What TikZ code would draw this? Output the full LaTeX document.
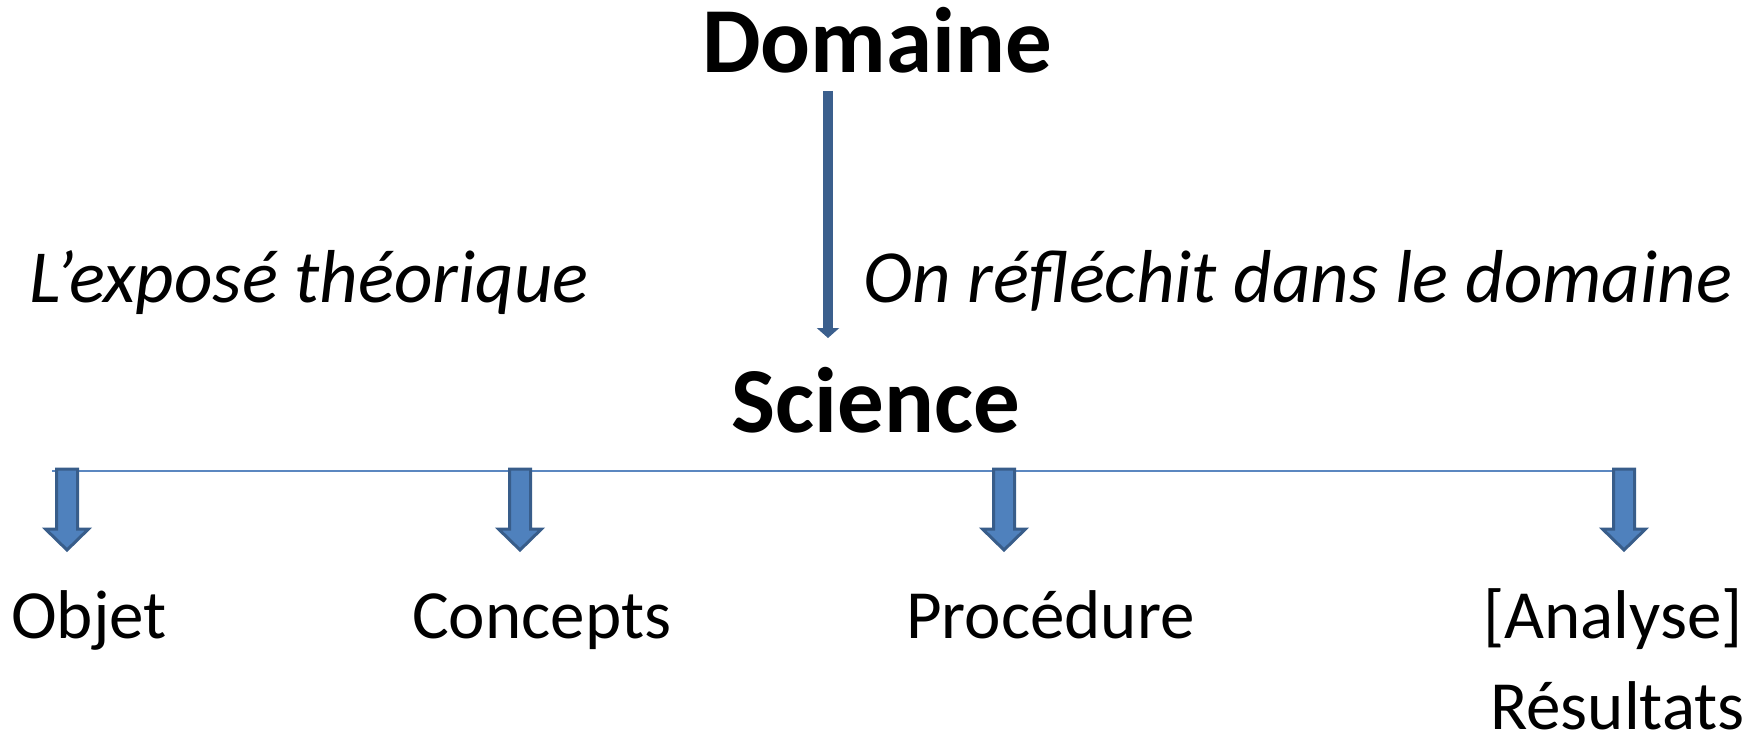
\documentclass[tikz,border=0pt]{standalone}
\usepackage{fontspec}
\setmainfont{Carlito}
\usetikzlibrary{arrows.meta}
\definecolor{arrowline}{HTML}{385D8A}
\definecolor{arrowfill}{HTML}{4F81BD}
\definecolor{mainarrow}{HTML}{3B5F8D}
\definecolor{hline}{HTML}{5B87C0}
\tikzset{
  title/.style={inner sep=0pt, anchor=base, font=\fontsize{93}{112}\selectfont\bfseries},
  note/.style={inner sep=0pt, anchor=base west, font=\fontsize{75}{90}\selectfont\itshape},
  item/.style={inner sep=0pt, anchor=base west, font=\fontsize{69}{83}\selectfont},
  blockarrow/.pic={
    \filldraw[draw=arrowline, fill=arrowfill, line width=3pt, line join=miter]
      (-10.5,0) -- (10.5,0) -- (10.5,60) -- (21.5,60) -- (0,81) -- (-21.5,60) -- (-10.5,60) -- cycle;
  }
}
\begin{document}
\begin{tikzpicture}[x=1pt,y=-1pt]
\useasboundingbox (0,0) rectangle (1761,741);
\node[title] (domaine) at (877,73) {Domaine};
\node[title] (science) at (876,432) {Science};
\node[note] (expose) at (29,302) {L’exposé théorique};
\node[note] (reflechit) at (863,302) {On réfléchit dans le domaine};
\coordinate (mtop) at (828,91);
\coordinate (mbot) at (828,338);
\draw[mainarrow, line width=10pt, -{Triangle[width=22pt,length=10pt]}] (mtop) -- (mbot);
\coordinate (lstart) at (52,471);
\coordinate (lend) at (1615,471);
\draw[hline, line width=2pt] (lstart) -- (lend);
\pic at (67,469) {blockarrow};
\pic at (520,469) {blockarrow};
\pic at (1004,469) {blockarrow};
\pic at (1624,469) {blockarrow};
\node[item] (objet) at (11,638) {Objet};
\node[item] (concepts) at (412,638) {Concepts};
\node[item] (procedure) at (906,638) {Procédure};
\node[item] (analyse) at (1483,638) {[Analyse]};
\node[item] (resultats) at (1490,729) {Résultats};
\end{tikzpicture}
\end{document}
